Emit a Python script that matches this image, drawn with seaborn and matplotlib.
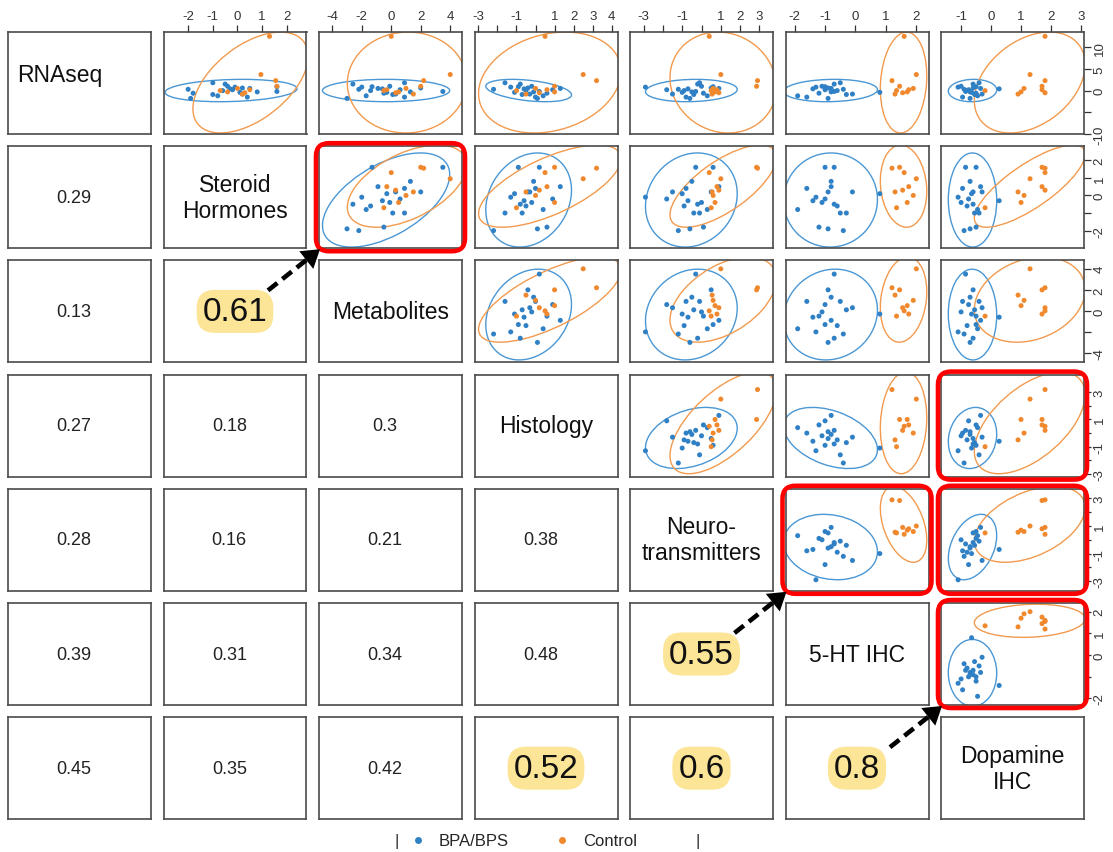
import numpy as np
import pandas as pd
import matplotlib
matplotlib.use("Agg")
import matplotlib.pyplot as plt
import seaborn as sns
from matplotlib.patches import Ellipse, FancyBboxPatch, FancyArrowPatch
from matplotlib.lines import Line2D

# ---------------- data ----------------
variables = ["RNAseq", "Steroid\nHormones", "Metabolites", "Histology",
             "Neuro-\ntransmitters", "5-HT IHC", "Dopamine\nIHC"]
groups = ["BPA/BPS", "Control"]

# BPA/BPS samples (n = 20)
bpa_rnaseq  = [-1.8, 0.3, -0.6, 1.5, 0.8, -1.2, 0.0, 0.5, -0.4, 1.0, -0.9, 0.2, 1.8, -1.5, 0.6, -0.2, 0.9, -0.8, 0.4, -0.3]
bpa_steroid = [-1.9, -2.0, -1.8, -0.5, -0.1, -0.8, -0.6, 0.5, 0.1, -0.4, -1.0, -0.2, -1.0, 0.4, 0.2, 1.6, 1.6, 0.2, -0.3, 0.8]
bpa_metab   = [-3.0, -2.2, -0.5, -2.6, -2.0, -1.7, -1.4, -0.9, -0.3, -0.1, 0.1, 0.6, 0.9, 0.9, 2.0, 3.5, -1.3, 0.3, -0.6, 1.3]
bpa_histo   = [0.1, -2.2, 0.6, -0.8, -1.3, 0.4, -0.5, 1.3, -1.1, -0.2, -0.7, 0.9, -1.6, 0.0, -0.4, 0.2, -0.9, -0.3, -0.6, -0.1]
bpa_neuro   = [-0.6, -1.2, 0.1, -0.2, -2.9, 0.3, -0.9, 0.9, -1.0, 0.0, -0.4, -1.8, -0.1, -0.8, 0.5, -0.3, 0.6, -1.5, -0.7, -0.5]
bpa_5ht     = [-0.9, -0.4, -1.2, -0.7, -1.3, -1.9, -0.6, -0.8, 0.8, -1.1, -0.3, -1.0, -0.5, -1.6, -0.9, -0.7, -1.0, -0.1, -1.4, -0.8]
bpa_dopa    = [-0.7, -0.9, -0.5, -0.6, -1.1, -0.45, -0.8, -0.35, -0.65, -1.0, -0.55, -0.75, -0.4, -0.95, -0.6, -0.85, -0.5, -0.3, 0.27, -0.7]

# Control samples (n = 10)
ctl_rnaseq  = [12.5, 3.7, 2.3, 1.0, 0.0, -0.3, 0.5, -0.5, 0.2, -0.8]
ctl_steroid = [1.3, 0.95, 1.55, 1.6, -0.7, -0.4, 0.0, 0.3, 0.5, 0.2]
ctl_metab   = [0.0, 4.0, 2.2, 2.0, -0.5, 0.5, 1.0, 0.3, -0.3, 1.5]
ctl_histo   = [0.5, 2.5, 3.2, 1.0, -1.0, 1.0, 0.0, 0.2, 0.6, -0.5]
ctl_neuro   = [0.4, 1.0, 2.9, 2.85, 0.5, 0.7, 0.6, 0.9, 0.8, 0.55]
ctl_5ht     = [1.6, 2.0, 1.2, 1.45, 1.35, 1.7, 1.9, 1.55, 1.75, 1.3]
ctl_dopa    = [1.8, 1.3, 1.8, 1.7, -0.2, 1.0, 1.1, 1.8, 1.7, 0.9]

# lower-triangle correlation labels (row i, columns 0..i-1)
corr_labels = [
    [],
    ["0.29"],
    ["0.13", "0.61"],
    ["0.27", "0.18", "0.3"],
    ["0.28", "0.16", "0.21", "0.38"],
    ["0.39", "0.31", "0.34", "0.48", "0.55"],
    ["0.45", "0.35", "0.42", "0.52", "0.6", "0.8"],
]
highlighted_corr = [(2, 1), (5, 4), (6, 3), (6, 4), (6, 5)]
highlighted_panels = [(1, 2), (3, 6), (4, 5), (4, 6), (5, 6)]
arrow_links = [((2, 1), (1, 2)), ((5, 4), (4, 5)), ((6, 5), (5, 6))]

# axis scales per variable
axis_limits = [(-10, 13.5), (-3.0, 2.8), (-4.9, 4.8), (-3.2, 4.3), (-3.7, 3.7), (-2.3, 2.4), (-1.67, 3.1)]
top_ticks = [None, [-2, -1, 0, 1, 2], [-4, -2, 0, 2, 4], [-3, -2, -1, 0, 1, 2, 3, 4],
             [-3, -2, -1, 0, 1, 2, 3], [-2, -1, 0, 1, 2], [-1, 0, 1, 2, 3]]
top_labels = [None, ["-2", "-1", "0", "1", "2"], ["-4", "-2", "0", "2", "4"],
              ["-3", "", "-1", "", "1", "2", "3", "4"],
              ["-3", "", "-1", "", "1", "2", "3"],
              ["-2", "-1", "0", "1", "2"], ["-1", "0", "1", "2", "3"]]
right_ticks = [[-10, -5, 0, 5, 10], [-2, -1, 0, 1, 2], [-4, -2, 0, 2, 4],
               [-3, -2, -1, 0, 1, 2, 3], [-3, -2, -1, 0, 1, 2, 3], [-2, -1, 0, 1, 2]]
right_labels = [["-10", "", "0", "5", "10"], ["-2", "", "0", "1", "2"], ["-4", "", "0", "2", "4"],
                ["-3", "", "-1", "", "1", "", "3"], ["-3", "", "-1", "", "1", "", "3"],
                ["-2", "", "0", "1", "2"]]

bpa_cols = [bpa_rnaseq, bpa_steroid, bpa_metab, bpa_histo, bpa_neuro, bpa_5ht, bpa_dopa]
ctl_cols = [ctl_rnaseq, ctl_steroid, ctl_metab, ctl_histo, ctl_neuro, ctl_5ht, ctl_dopa]
keys = [f"v{k}" for k in range(len(variables))]
df = pd.concat([
    pd.DataFrame({**{k: c for k, c in zip(keys, bpa_cols)}, "group": groups[0]}),
    pd.DataFrame({**{k: c for k, c in zip(keys, ctl_cols)}, "group": groups[1]}),
], ignore_index=True)

# ---------------- style ----------------
sns.set_theme(style="white")
plt.rcParams["font.family"] = ["Liberation Sans", "DejaVu Sans"]

pt_colors = {"BPA/BPS": "#2f80c4", "Control": "#f0882e"}
el_colors = {"BPA/BPS": "#4a97d4", "Control": "#f29a4e"}
frame_col = "#4a4a4a"
tick_col = "#333333"

W, H = 1113, 853
DPI = 100
fig = plt.figure(figsize=(W / DPI, H / DPI), dpi=DPI)

PW, PH = 143, 102


def panel_px(i, j):
    left = 8 + 155.5 * j
    top = 33 + 114.2 * i
    return left, top


def ellipse_radius(n, level=0.95):
    # sqrt(2 * F_{level}(2, n-1)), closed form for the F(2, d) quantile
    d = n - 1
    q = d / 2.0 * ((1 - level) ** (-2.0 / d) - 1)
    return np.sqrt(2 * q)


def add_ellipse(ax, x, y, color):
    x = np.asarray(x, float)
    y = np.asarray(y, float)
    cov = np.cov(x, y)
    vals, vecs = np.linalg.eigh(cov)
    order = vals.argsort()[::-1]
    vals, vecs = vals[order], vecs[:, order]
    angle = np.degrees(np.arctan2(vecs[1, 0], vecs[0, 0]))
    r = ellipse_radius(len(x))
    w, h = 2 * r * np.sqrt(np.maximum(vals, 0))
    ax.add_patch(Ellipse((x.mean(), y.mean()), w, h, angle=angle, fill=False,
                         edgecolor=color, lw=1.0, zorder=2))


n = len(variables)
for i in range(n):
    for j in range(n):
        left, top = panel_px(i, j)
        ax = fig.add_axes([left / W, 1 - (top + PH) / H, PW / W, PH / H])
        for sp in ax.spines.values():
            sp.set_visible(True)
            sp.set_color(frame_col)
            sp.set_linewidth(1.2)
        ax.set_facecolor("white")
        if i < j:
            sns.scatterplot(data=df, x=keys[j], y=keys[i], hue="group",
                            palette=pt_colors, s=13, edgecolor="none",
                            legend=False, ax=ax, zorder=3)
            for g, cols in ((groups[0], bpa_cols), (groups[1], ctl_cols)):
                add_ellipse(ax, cols[j], cols[i], el_colors[g])
            ax.set_xlim(*axis_limits[j])
            ax.set_ylim(*axis_limits[i])
            ax.set_xlabel("")
            ax.set_ylabel("")
            ax.set_xticks([])
            ax.set_yticks([])
            if i == 0:
                ax.xaxis.tick_top()
                ax.set_xticks(top_ticks[j])
                ax.set_xticklabels(top_labels[j])
                ax.tick_params(axis="x", top=True, bottom=False, labeltop=True,
                               labelbottom=False, length=5, width=0.9,
                               color=tick_col, labelcolor=tick_col, labelsize=9.5, pad=2)
            if j == n - 1:
                ax.yaxis.tick_right()
                ax.set_yticks(right_ticks[i])
                ax.set_yticklabels(right_labels[i], rotation=90, va="center")
                ax.tick_params(axis="y", right=True, left=False, labelright=True,
                               labelleft=False, length=5, width=0.9,
                               color=tick_col, labelcolor=tick_col, labelsize=9.5, pad=2)
        else:
            ax.set_xlim(0, 1)
            ax.set_ylim(0, 1)
            ax.set_xticks([])
            ax.set_yticks([])
            if i == j:
                xpos = 0.36 if i == 0 else 0.5
                ypos = 0.58 if i == 0 else 0.5
                ax.text(xpos, ypos, variables[i], ha="center", va="center",
                        fontsize=16.5, color="#111111", linespacing=1.15)
            else:
                lab = corr_labels[i][j]
                if (i, j) in highlighted_corr:
                    ax.text(0.5, 0.5, lab, ha="center", va="center", fontsize=24,
                            color="#111111",
                            bbox=dict(boxstyle="round,pad=0.18,rounding_size=0.55",
                                      fc="#fce596", ec="none"))
                else:
                    ax.text(0.46, 0.5, lab, ha="center", va="center", fontsize=13,
                            color="#222222")

# red rounded frames around highlighted scatter panels
for (i, j) in highlighted_panels:
    left, top = panel_px(i, j)
    x0 = (left - 3) / DPI
    y0 = (H - (top + PH + 3)) / DPI
    box = FancyBboxPatch((x0, y0), (PW + 6) / DPI, (PH + 6) / DPI,
                         boxstyle="round,pad=0,rounding_size=0.13",
                         transform=fig.dpi_scale_trans, fill=False,
                         edgecolor="#ff0000", lw=3.3, zorder=20)
    fig.add_artist(box)

# dashed arrows from highlighted correlations to panels
for (si, sj), (ti, tj) in arrow_links:
    sl, st = panel_px(si, sj)
    sx, sy = sl + PW / 2 + 33, st + PH / 2 - 21
    tl, tt = panel_px(ti, tj)
    ex, ey = tl + 1, tt + PH + 1
    sxi, syi = sx / DPI, (H - sy) / DPI
    exi, eyi = ex / DPI, (H - ey) / DPI
    d = np.array([exi - sxi, eyi - syi])
    L = np.hypot(*d)
    u = d / L
    hx, hy = exi - u[0] * 0.13, eyi - u[1] * 0.13
    fig.add_artist(Line2D([sxi, hx], [syi, hy], transform=fig.dpi_scale_trans,
                          color="black", lw=3.3, ls=(0, (2.6, 1.4)), zorder=21,
                          solid_capstyle="butt", dash_capstyle="butt"))
    fig.add_artist(FancyArrowPatch((hx - u[0] * 0.02, hy - u[1] * 0.02), (exi, eyi),
                                   transform=fig.dpi_scale_trans,
                                   arrowstyle="-|>,head_length=0.7,head_width=0.45",
                                   mutation_scale=18, color="black", lw=0,
                                   shrinkA=0, shrinkB=0, zorder=22))

# legend
handles = [Line2D([], [], marker="o", ls="", color=pt_colors[g], ms=5, mec="none")
           for g in groups]
fig.legend(handles, groups, loc="center", bbox_to_anchor=(523 / W, (H - 842) / H),
           ncol=2, frameon=False, fontsize=12, handlelength=1.0,
           handletextpad=0.75, columnspacing=2.7, borderpad=0.2)
fig.text(397 / W, (H - 842) / H, "|", ha="center", va="center", fontsize=12, color="#333333")
fig.text(698 / W, (H - 842) / H, "|", ha="center", va="center", fontsize=12, color="#333333")

fig.savefig("out.png", dpi=DPI, facecolor="white")
